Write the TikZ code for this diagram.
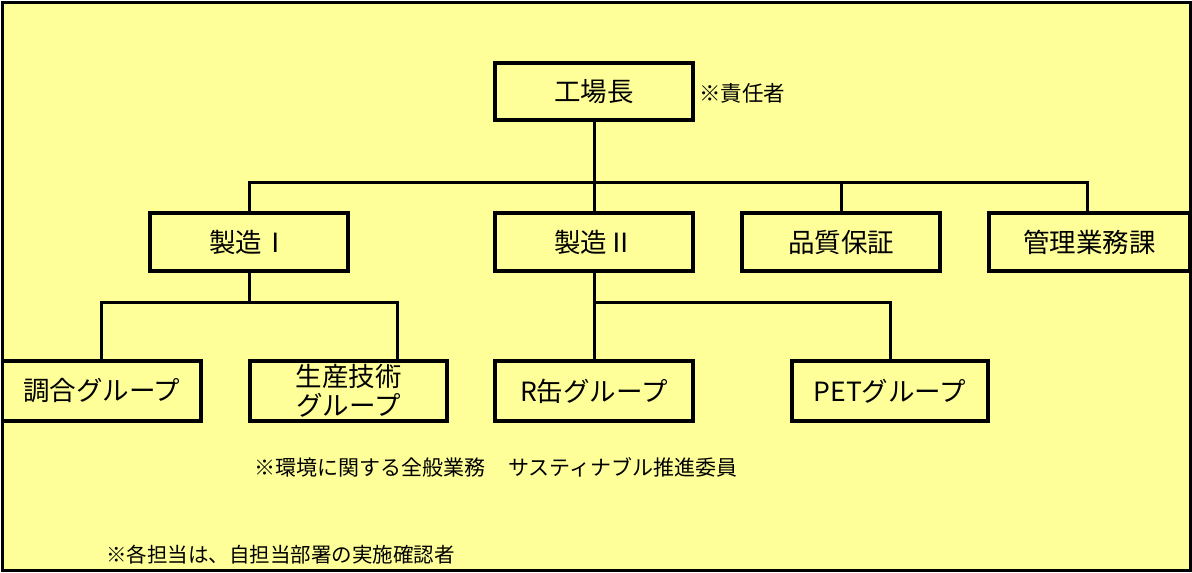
\documentclass[tikz,border=0pt]{standalone}
\usepackage{fontspec}
\setmainfont{Noto Sans CJK JP}
\definecolor{bg}{HTML}{FFFF99}
\begin{document}
\begin{tikzpicture}[x=1pt,y=-1pt,
  box/.style={draw=black,line width=3.3pt,fill=bg,inner sep=0pt,font=\fontsize{26.5}{29}\selectfont,align=center},
  conn/.style={line width=3pt,line cap=rect,line join=miter},
  note/.style={anchor=west,inner sep=0pt,font=\fontsize{21}{24}\selectfont}]
\useasboundingbox (0,0) rectangle (1192,573);
\draw[line width=3.3pt,fill=bg] (2.5,2.5) rectangle (1190.5,570.5);
% boxes
\node[box,minimum width=198,minimum height=57] (kojo) at (594,91.5) {工場長};
\node[box,minimum width=198,minimum height=58] (s1) at (249,242) {製造Ⅰ};
\node[box,minimum width=198,minimum height=58] (s2) at (594,242) {製造Ⅱ};
\node[box,minimum width=198,minimum height=58] (hs) at (841,242) {品質保証};
\node[box,minimum width=201,minimum height=58] (kk) at (1089.5,242) {管理業務課};
\node[box,minimum width=198.5,minimum height=60] (cho) at (101.75,391) {調合グループ};
\node[box,minimum width=197,minimum height=60] (sg) at (348.5,391) {生産技術\\グループ};
\node[box,minimum width=198,minimum height=60] (rk) at (594,391) {R缶グループ};
\node[box,minimum width=196,minimum height=60] (pet) at (890,391) {PETグループ};
% notes
\node[note,font=\fontsize{21.5}{24}\selectfont] (n0) at (699,93) {※責任者};
\node[note] (n1) at (254,467) {※環境に関する全般業務\hspace{23pt}サスティナブル推進委員};
\node[note,font=\fontsize{20.5}{24}\selectfont] (n2) at (106,555) {※各担当は、自担当部署の実施確認者};
% connectors
\coordinate (bus1) at (594,182);
\coordinate (kkj) at (1087,182);
\coordinate (j1) at (101,302);
\coordinate (j2) at (397,302);
\coordinate (j4) at (890,302);
\draw[conn] (kojo.south) -- (s2.north);
\draw[conn] (s1.north) -- (s1.north |- bus1) -- (kkj) -- (kkj |- kk.north);
\draw[conn] (hs.north) -- (hs.north |- bus1);
\draw[conn] (s1.south) -- (s1.south |- j1);
\draw[conn] (j1 |- cho.north) -- (j1) -- (j2) -- (j2 |- sg.north);
\draw[conn] (s2.south) -- (rk.north);
\draw[conn] (s2.south |- j4) -- (j4) -- (pet.north);
\end{tikzpicture}
\end{document}
